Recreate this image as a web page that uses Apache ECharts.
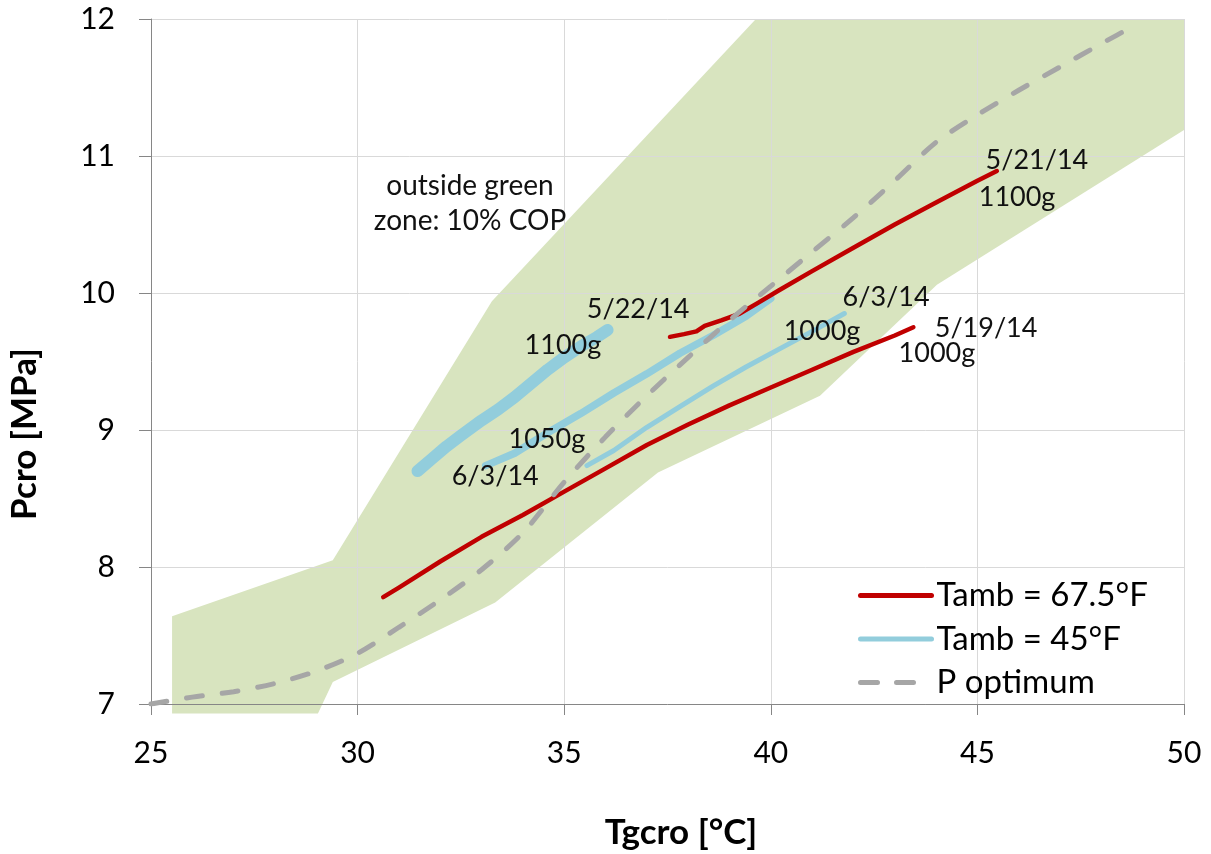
<!DOCTYPE html>
<html>
<head>
<meta charset="utf-8">
<script src="https://cdn.jsdelivr.net/npm/echarts@6/dist/echarts.min.js"></script>
<style>
  html, body { margin: 0; padding: 0; background: #ffffff; }
  #chart { width: 1211px; height: 854px; }
</style>
</head>
<body>
<div id="chart"></div>
<script>
// Green zone: operating region within 10% of the optimum COP (polygon vertices)
const zoneX = [25.51, 25.51, 29.40, 33.25, 39.64, 50.00, 50.00, 44.02, 41.19, 37.27, 33.33, 29.40, 29.04];
const zoneY = [6.93, 7.64, 8.05, 9.94, 12.00, 12.00, 11.19, 10.06, 9.25, 8.69, 7.74, 7.16, 6.93];

// Optimum gas-cooler pressure curve
const optX = [25, 26, 27, 28, 29, 30, 31, 32, 33, 34, 35, 36, 37, 38, 39, 40, 41, 42, 43, 44, 45, 46, 47, 48, 48.85];
const optY = [7.00, 7.05, 7.09, 7.15, 7.24, 7.37, 7.56, 7.76, 7.98, 8.25, 8.62, 8.95, 9.25, 9.53, 9.80, 10.05, 10.30, 10.55, 10.82, 11.10, 11.30, 11.48, 11.65, 11.82, 11.96];

// Tamb = 67.5°F runs
const run0519X = [30.62, 31, 32, 33, 34, 35, 36, 37, 38, 39, 40, 41, 42, 43, 43.45];
const run0519Y = [7.78, 7.85, 8.04, 8.22, 8.38, 8.55, 8.72, 8.89, 9.04, 9.18, 9.31, 9.44, 9.57, 9.69, 9.75];
const run0521X = [37.56, 37.9, 38.2, 38.4, 38.8, 39.25, 39.7, 40.2, 41, 42, 43, 44, 45, 45.47];
const run0521Y = [9.68, 9.70, 9.72, 9.76, 9.80, 9.85, 9.93, 10.02, 10.16, 10.33, 10.50, 10.66, 10.82, 10.89];

// Tamb = 45°F runs
const run0603aX = [35.55, 36.2, 37.0, 37.8, 38.6, 39.4, 40.2, 41.0, 41.78];
const run0603aY = [8.74, 8.85, 9.02, 9.17, 9.32, 9.46, 9.59, 9.72, 9.85];
const run0603bX = [33.1, 33.8, 34.6, 35.4, 36.2, 37.0, 37.8, 38.6, 39.4, 40.0];
const run0603bY = [8.74, 8.83, 8.98, 9.12, 9.27, 9.41, 9.56, 9.69, 9.83, 9.96];
const run0522X = [31.45, 31.8, 32.15, 32.5, 33.0, 33.4, 33.8, 34.2, 34.6, 35.0, 35.4, 35.8, 36.05];
const run0522Y = [8.70, 8.79, 8.88, 8.96, 9.07, 9.15, 9.24, 9.34, 9.44, 9.53, 9.61, 9.68, 9.73];

// Run annotations (anchored at data coordinates)
const noteText = ['5/21/14', '1100g', '5/22/14', '1100g', '6/3/14', '1000g', '5/19/14', '1000g', '1050g', '6/3/14'];
const noteX = [46.44, 45.96, 36.79, 34.97, 42.79, 41.24, 45.21, 44.02, 34.58, 33.33];
const noteY = [10.97, 10.70, 9.88, 9.62, 9.97, 9.72, 9.74, 9.56, 8.93, 8.66];
const zoneNote = 'outside green\nzone: 10% COP';
const zoneNoteX = 32.72;
const zoneNoteY = 10.65;

const zip = (xs, ys) => xs.map((x, i) => [x, ys[i]]);

const RED = '#c00000';
const BLUE = '#92cddc';
const GREY = '#a6a6a6';
const FONT = 'Lato, "Open Sans", sans-serif';

function runSeries(name, xs, ys, color, width) {
  return {
    type: 'line', name: name, data: zip(xs, ys),
    symbol: 'none', smooth: false, z: 3,
    lineStyle: { color: color, width: width, cap: 'round', join: 'round' },
    itemStyle: { color: color },
    emphasis: { disabled: true }
  };
}

const chart = echarts.init(document.getElementById('chart'), null, { renderer: 'canvas' });

chart.setOption({
  animation: false,
  backgroundColor: '#ffffff',
  grid: { left: 151, right: 27, top: 19, bottom: 150 },
  xAxis: {
    type: 'value', min: 25, max: 50, interval: 5,
    axisLine: { show: true, lineStyle: { color: '#868686', width: 1 } },
    axisTick: { show: true, inside: false, length: 11, lineStyle: { color: '#868686' } },
    axisLabel: { margin: 34, fontFamily: FONT, fontSize: 30, color: '#000' },
    splitLine: { show: true, lineStyle: { color: '#d9d9d9', width: 1 } }
  },
  yAxis: {
    type: 'value', min: 7, max: 12, interval: 1,
    axisLine: { show: true, lineStyle: { color: '#868686', width: 1 } },
    axisTick: { show: true, inside: false, length: 12, lineStyle: { color: '#868686' } },
    axisLabel: { margin: 36, fontFamily: FONT, fontSize: 30, color: '#000' },
    splitLine: { show: true, lineStyle: { color: '#d9d9d9', width: 1 } }
  },
  legend: {
    orient: 'vertical', left: 853, top: 574,
    itemWidth: 71, itemHeight: 14, itemGap: 10.5,
    data: [
      { name: 'Tamb = 67.5°F' },
      { name: 'Tamb = 45°F' },
      { name: 'P optimum', lineStyle: { type: [17, 19], cap: 'round' } }
    ],
    itemStyle: { opacity: 0 },
    lineStyle: { width: 5, cap: 'round' },
    textStyle: { fontFamily: FONT, fontSize: 33, color: '#000' },
    selectedMode: false
  },
  graphic: [
    { type: 'text', x: 681, y: 833, silent: true,
      style: { text: 'Tgcro [°C]', font: 'bold 35px ' + FONT, fill: '#000', align: 'center', verticalAlign: 'middle' } },
    { type: 'text', x: 25, y: 434, rotation: Math.PI / 2, silent: true,
      style: { text: 'Pcro [MPa]', font: 'bold 35px ' + FONT, fill: '#000', align: 'center', verticalAlign: 'middle' } }
  ],
  series: [
    {
      type: 'custom', name: 'zone', z: -1, silent: true, clip: false,
      data: [[zoneX[0], zoneY[0]]],
      renderItem: function (params, api) {
        const pts = zoneX.map((x, i) => api.coord([x, zoneY[i]]));
        return { type: 'polygon', shape: { points: pts }, style: { fill: '#d8e4bf' } };
      }
    },
    runSeries('Tamb = 45°F', run0603aX, run0603aY, BLUE, 5),
    runSeries('Tamb = 45°F', run0603bX, run0603bY, BLUE, 7.5),
    runSeries('Tamb = 45°F', run0522X, run0522Y, BLUE, 12),
    runSeries('Tamb = 67.5°F', run0519X, run0519Y, RED, 4.5),
    runSeries('Tamb = 67.5°F', run0521X, run0521Y, RED, 4.5),
    {
      type: 'line', name: 'P optimum', data: zip(optX, optY),
      symbol: 'none', smooth: 0.3, z: 4,
      lineStyle: { color: GREY, width: 5, type: [16, 20], cap: 'round' },
      itemStyle: { color: GREY },
      emphasis: { disabled: true }
    },
    {
      type: 'custom', name: 'notes', z: 6, silent: true, clip: false,
      data: zip(noteX, noteY),
      renderItem: function (params, api) {
        const p = api.coord([api.value(0), api.value(1)]);
        return {
          type: 'text', x: p[0], y: p[1],
          style: { text: noteText[params.dataIndex], font: '27px ' + FONT, fill: '#111', align: 'center', verticalAlign: 'middle' }
        };
      }
    },
    {
      type: 'custom', name: 'zoneNote', z: 6, silent: true, clip: false,
      data: [[zoneNoteX, zoneNoteY]],
      renderItem: function (params, api) {
        const p = api.coord([api.value(0), api.value(1)]);
        return {
          type: 'text', x: p[0], y: p[1],
          style: { text: zoneNote, font: '28px ' + FONT, lineHeight: 35, fill: '#111', align: 'center', verticalAlign: 'middle' }
        };
      }
    }
  ]
});
</script>
</body>
</html>
